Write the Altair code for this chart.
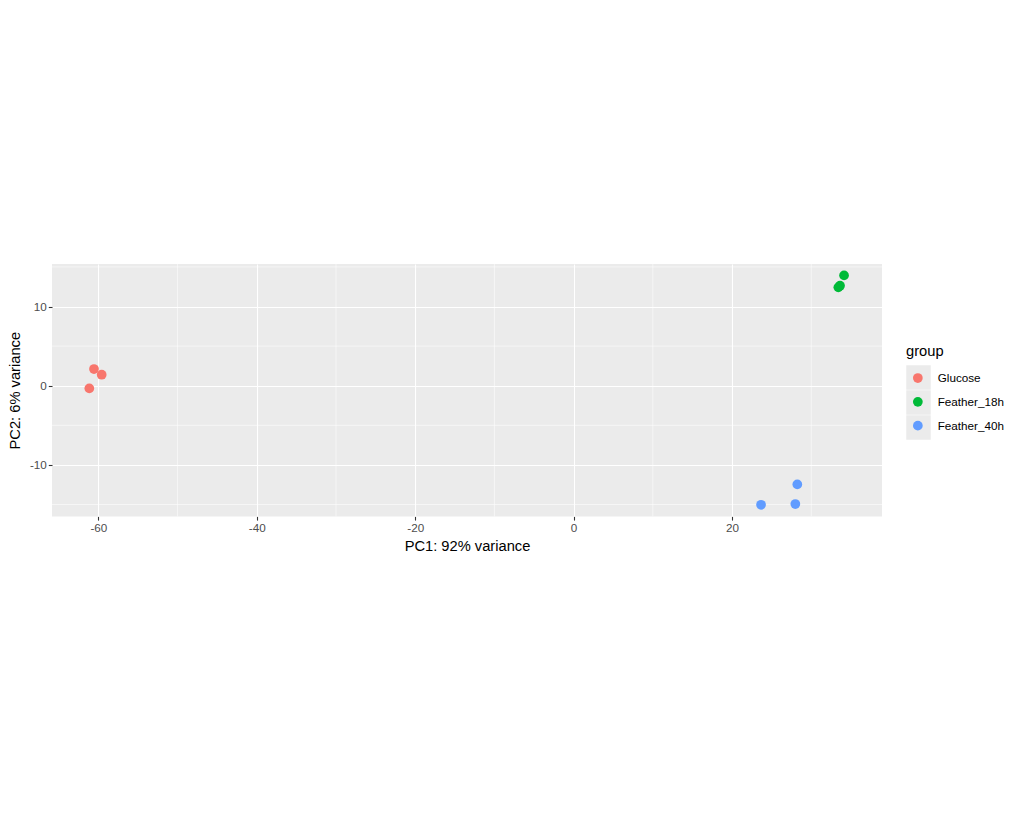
import altair as alt
import pandas as pd

groups = ["Glucose", "Glucose", "Glucose",
          "Feather_18h", "Feather_18h", "Feather_18h",
          "Feather_40h", "Feather_40h", "Feather_40h"]
pc1 = [-61.14, -60.55, -59.58, 34.14, 33.42, 33.63, 23.66, 27.99, 28.24]
pc2 = [-0.34, 2.11, 1.39, 13.93, 12.42, 12.63, -15.03, -14.94, -12.46]

group_order = ["Glucose", "Feather_18h", "Feather_40h"]
group_colors = ["#F8766D", "#00BA38", "#619CFF"]

x_domain = [-65.85, 38.93]
y_domain = [-16.5, 15.37]
x_major = [-60, -40, -20, 0, 20]
y_major = [-10, 0, 10]
x_minor = [-50, -30, -10, 10, 30]
y_minor = [-15, -5, 5, 15]

df = pd.DataFrame({"PC1": pc1, "PC2": pc2, "group": groups})
xs = alt.Scale(domain=x_domain, nice=False, zero=False)
ys = alt.Scale(domain=y_domain, nice=False, zero=False)

FONT = "Liberation Sans"

minor_x = alt.Chart(pd.DataFrame({"PC1": x_minor})).mark_rule(
    color="white", strokeWidth=0.55
).encode(x=alt.X("PC1:Q", scale=xs))

minor_y = alt.Chart(pd.DataFrame({"PC2": y_minor})).mark_rule(
    color="white", strokeWidth=0.55
).encode(y=alt.Y("PC2:Q", scale=ys))

axis_common = dict(
    grid=True, gridColor="white", gridWidth=1.1,
    domain=False, tickColor="#333333", tickSize=3.7, tickWidth=1.1,
    labelColor="#4D4D4D", labelFontSize=11.7, labelFont=FONT,
    titleFont=FONT, titleFontSize=14.7, titleFontWeight="normal",
    titleColor="black", labelPadding=2,
    labelExpr="toString(datum.value)",
)

# legend key background (grey squares behind the legend symbols)
key_order = ["key_" + g for g in group_order]
key_bg = alt.Chart(df).transform_calculate(
    keybg="'key_' + datum.group"
).mark_point(opacity=0, filled=True, color="#EBEBEB").encode(
    x=alt.X("PC1:Q", scale=xs),
    y=alt.Y("PC2:Q", scale=ys),
    shape=alt.Shape(
        "keybg:N",
        scale=alt.Scale(domain=key_order,
                        range=["square", "square", "square"]),
        legend=alt.Legend(
            title=None, orient="none", legendX=854, legendY=101,
            symbolSize=600, symbolFillColor="#EBEBEB",
            symbolStrokeColor="#EBEBEB",
            symbolStrokeWidth=0, symbolOpacity=1,
            labelExpr="''", labelFontSize=1, labelOffset=0,
            rowPadding=0, padding=0, zindex=0,
        ),
    ),
)

points = alt.Chart(df).mark_circle(size=95, opacity=1).encode(
    x=alt.X("PC1:Q", scale=xs,
            axis=alt.Axis(values=x_major, title="PC1: 92% variance",
                          titlePadding=5, **axis_common)),
    y=alt.Y("PC2:Q", scale=ys,
            axis=alt.Axis(values=y_major, title="PC2: 6% variance",
                          titlePadding=7, **axis_common)),
    color=alt.Color(
        "group:N",
        scale=alt.Scale(domain=group_order, range=group_colors),
        legend=alt.Legend(
            title="group", orient="none", legendX=854, legendY=80,
            symbolType="circle", symbolSize=95, symbolOpacity=1,
            symbolStrokeWidth=0, symbolOffset=6,
            labelFont=FONT, labelFontSize=11.7, labelColor="black",
            labelOffset=14, titleFont=FONT, titleFontSize=14.7,
            titleFontWeight="normal", titleColor="black",
            titlePadding=13.5, rowPadding=10.8, padding=0, zindex=1,
        ),
    ),
)

chart = alt.layer(minor_x, minor_y, key_bg, points).properties(
    width=830, height=252.4,
    autosize=alt.AutoSizeParams(type="none"),
    padding={"left": 44, "top": 256, "right": 126, "bottom": 280},
).configure(background="white").configure_view(fill="#EBEBEB", stroke=None)

chart.save("out.html", embed_options={"renderer": "svg", "actions": False})
